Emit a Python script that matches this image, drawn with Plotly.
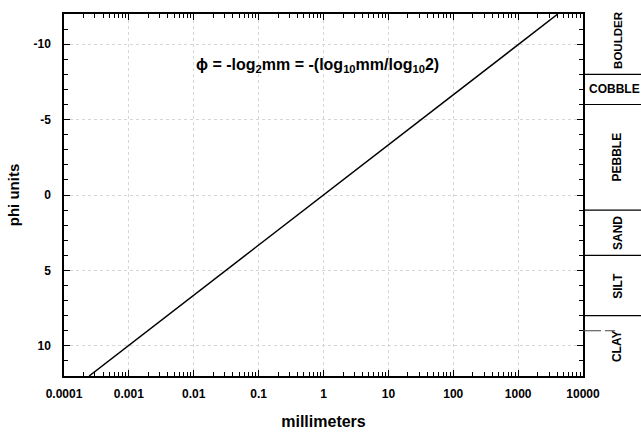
import plotly.graph_objects as go

# line data (phi = -log2 mm)
mm = [0.000244, 0.001, 0.01, 0.1, 1, 10, 100, 1000, 4096]
phi = [12, 9.97, 6.64, 3.32, 0, -3.32, -6.64, -9.97, -12]

x_ticks = [0.0001, 0.001, 0.01, 0.1, 1, 10, 100, 1000, 10000]
x_ticklabels = ["0.0001", "0.001", "0.01", "0.1", "1", "10", "100", "1000", "10000"]
y_ticks = [-10, -5, 0, 5, 10]

# grain-size classes on the right
class_names = ["BOULDER", "COBBLE", "PEBBLE", "SAND", "SILT", "CLAY"]
class_top = [-12, -8, -6, 1, 4, 8]
class_bottom = [-8, -6, 1, 4, 8, 12]
boundaries = [-8, -6, 1, 4, 8]
dashed_boundary = [9]

FONT = "Liberation Sans"

minor_x = [m * 10.0 ** e for e in range(-4, 4) for m in range(2, 10)]

fig = go.Figure()
fig.add_trace(go.Scatter(x=mm, y=phi, mode="lines",
                         line=dict(color="black", width=1.5),
                         showlegend=False, hoverinfo="skip"))
# invisible trace to carry the minor-tick axis
fig.add_trace(go.Scatter(x=[mm[0]], y=[phi[0]], mode="markers", xaxis="x2",
                         marker=dict(opacity=0), showlegend=False, hoverinfo="skip"))

shapes = []
for b in boundaries:
    shapes.append(dict(type="line", xref="paper", yref="y", x0=1.0, x1=1.12,
                       y0=b, y1=b, line=dict(color="black", width=1.2)))
for b in dashed_boundary:
    shapes.append(dict(type="line", xref="paper", yref="y", x0=1.0, x1=1.062,
                       y0=b, y1=b, line=dict(color="#444444", width=1.2, dash="18px,4px")))

annotations = []
for name, t, bt in zip(class_names, class_top, class_bottom):
    mid = (t + bt) / 2
    annotations.append(dict(x=1.066 if name != "COBBLE" else 1.06, xref="paper",
                            y=mid - (0.3 if name == "BOULDER" else 0), yref="y",
                            text="<b>%s</b>" % name,
                            showarrow=False, textangle=0 if name == "COBBLE" else -90,
                            font=dict(family=FONT, size=12 if name != "BOULDER" else 11.5,
                                      color="black"),
                            xanchor="center", yanchor="middle"))

annotations.append(dict(x=-0.1, y=-8.6, xref="x", yref="y",
                        text="<b>ϕ = -log<sub>2</sub>mm = -(log<sub>10</sub>mm/log<sub>10</sub>2)</b>",
                        showarrow=False, font=dict(family=FONT, size=16, color="black"),
                        xanchor="center", yanchor="middle"))

fig.update_layout(
    width=641, height=433,
    margin=dict(l=64, r=58, t=14, b=57, autoexpand=False),
    paper_bgcolor="white", plot_bgcolor="white",
    shapes=shapes, annotations=annotations,
    font=dict(family=FONT, color="black"),
    xaxis2=dict(
        type="log", range=[-4, 4], overlaying="x", side="bottom", automargin=False,
        tickvals=minor_x, showticklabels=False, ticks="inside", ticklen=4,
        tickcolor="black", tickwidth=1, showline=True, linecolor="black", linewidth=1.5,
        mirror="ticks", showgrid=False, zeroline=False,
    ),
)

fig.layout.xaxis.update(
    type="log", range=[-4, 4], automargin=False,
    tickvals=x_ticks, ticktext=["<b>%s</b>" % t for t in x_ticklabels],
    tickfont=dict(family=FONT, size=12, color="black"),
    ticks="inside", ticklen=6, tickcolor="black", ticklabelstandoff=6,
    showline=True, linecolor="black", linewidth=1.5, mirror="ticks",
    showgrid=True, gridcolor="#d6d6d6", griddash="dot", gridwidth=1,
    zeroline=False,
    title=dict(text="<b>millimeters</b>", font=dict(family=FONT, size=16, color="black"),
               standoff=16),
)
fig.update_yaxes(
    range=[12, -12], automargin=False,
    tickvals=y_ticks, ticktext=["<b>%d</b>" % v for v in y_ticks],
    tickfont=dict(family=FONT, size=12, color="black"),
    ticks="inside", ticklen=6, tickcolor="black", ticklabelstandoff=9,
    showline=True, linecolor="black", linewidth=1.5, mirror="ticks",
    showgrid=True, gridcolor="#d6d6d6", griddash="dot", gridwidth=1,
    zeroline=False,
    minor=dict(ticks="inside", ticklen=4, tickcolor="black", dtick=1, showgrid=False),
    title=dict(text="<b>phi units</b>", font=dict(family=FONT, size=15, color="black"),
               standoff=10),
)

fig.write_html("out.html")
